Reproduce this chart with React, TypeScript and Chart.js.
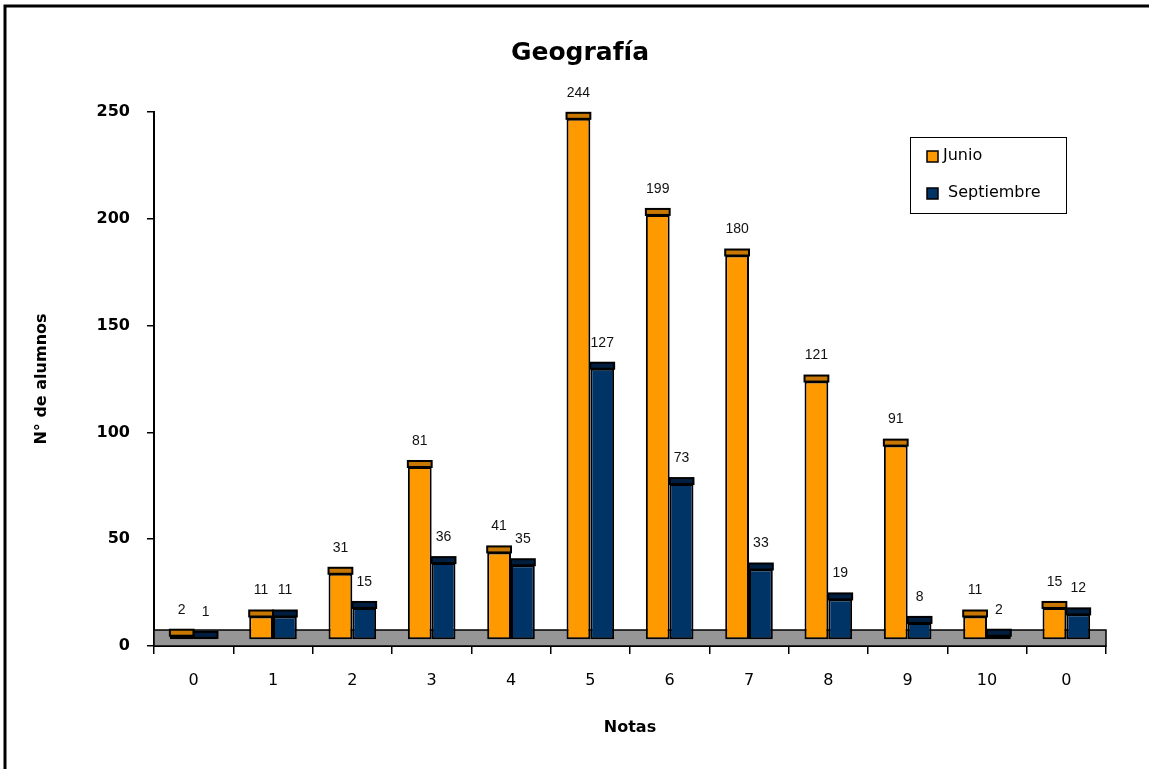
import React, { useEffect, useRef } from "react";
import { Chart, registerables } from "chart.js";

Chart.register(...registerables);

const categories = ["0", "1", "2", "3", "4", "5", "6", "7", "8", "9", "10", "0"];
const junio = [2, 11, 31, 81, 41, 244, 199, 180, 121, 91, 11, 15];
const septiembre = [1, 11, 15, 36, 35, 127, 73, 33, 19, 8, 2, 12];
const seriesNames = ["Junio", "Septiembre"];
const yTicks = { min: 0, max: 250, step: 50 };
const chartTitle = "Geografía";

const FRONT = ["#FF9900", "#003366"];
const CAPS = ["#C87800", "#001F40"];
const DEPTH = 6; // px shift of the front face (3D depth)
const CAP = 6; // px height of the visible top face
const FLOOR = 16; // px height of the grey floor

const threeD = {
  id: "threeD",
  beforeDraw(chart: any) {
    const { ctx, width, height } = chart;
    ctx.save();
    ctx.fillStyle = "#ffffff";
    ctx.fillRect(0, 0, width, height);
    ctx.strokeStyle = "#000";
    ctx.lineWidth = 3;
    ctx.beginPath();
    ctx.moveTo(5, height + 10);
    ctx.lineTo(5, 6);
    ctx.lineTo(width + 10, 6);
    ctx.stroke();
    ctx.restore();
  },
  beforeDatasetsDraw(chart: any) {
    const { ctx, chartArea } = chart;
    const { left, right, bottom } = chartArea;
    ctx.save();
    ctx.fillStyle = "#969696";
    ctx.fillRect(left, bottom - FLOOR, right - left, FLOOR);
    ctx.strokeStyle = "#000";
    ctx.lineWidth = 1.5;
    ctx.strokeRect(left, bottom - FLOOR, right - left, FLOOR);
    ctx.restore();
    ctx.save();
    ctx.translate(0, -DEPTH);
  },
  afterDatasetsDraw(chart: any) {
    const { ctx } = chart;
    chart.data.datasets.forEach((ds: any, i: number) => {
      const meta = chart.getDatasetMeta(i);
      meta.data.forEach((bar: any) => {
        const { x, y, width } = bar.getProps(["x", "y", "width"], true);
        ctx.fillStyle = CAPS[i];
        ctx.fillRect(x - width / 2, y - CAP, width, CAP);
        ctx.strokeStyle = "#000";
        ctx.lineWidth = 2;
        ctx.strokeRect(x - width / 2, y - CAP, width, CAP);
      });
    });
    ctx.restore();
    ctx.save();
    ctx.font = "14px 'Liberation Sans', Arial, sans-serif";
    ctx.fillStyle = "#111";
    ctx.textAlign = "center";
    ctx.textBaseline = "middle";
    chart.data.datasets.forEach((ds: any, i: number) => {
      const meta = chart.getDatasetMeta(i);
      meta.data.forEach((bar: any, j: number) => {
        const { x, y } = bar.getProps(["x", "y"], true);
        ctx.fillText(String(ds.data[j]), x, y - DEPTH - CAP - 20);
      });
    });
    ctx.restore();
  },
  afterDraw(chart: any) {
    const { ctx } = chart;
    ctx.save();
    // title
    ctx.font = "bold 25px 'DejaVu Sans', sans-serif";
    ctx.fillStyle = "#000";
    ctx.textAlign = "center";
    ctx.textBaseline = "middle";
    ctx.fillText(chartTitle, 580, 53);
    // legend
    ctx.strokeStyle = "#000";
    ctx.lineWidth = 1;
    ctx.fillStyle = "#fff";
    ctx.fillRect(910.5, 137.5, 156, 76);
    ctx.strokeRect(910.5, 137.5, 156, 76);
    const rows = [156, 193];
    const textX = [943, 948];
    ctx.font = "16px 'DejaVu Sans', sans-serif";
    ctx.textBaseline = "middle";
    ctx.textAlign = "left";
    rows.forEach((ry, i) => {
      ctx.fillStyle = FRONT[i];
      ctx.fillRect(927, ry - 5, 11, 11);
      ctx.strokeStyle = "#000";
      ctx.lineWidth = 1.5;
      ctx.strokeRect(927, ry - 5, 11, 11);
      ctx.fillStyle = "#000";
      ctx.fillText(seriesNames[i], textX[i], ry);
    });
    ctx.restore();
  },
};

export default function App() {
  const ref = useRef<HTMLCanvasElement>(null);
  useEffect(() => {
    const chart = new Chart(ref.current as HTMLCanvasElement, {
      type: "bar",
      data: {
        labels: categories,
        datasets: [
          {
            label: seriesNames[0],
            data: junio,
            backgroundColor: FRONT[0],
            borderColor: "#000",
            borderWidth: 2,
            borderSkipped: false,
            clip: false as any,
          },
          {
            label: seriesNames[1],
            data: septiembre,
            backgroundColor: FRONT[1],
            borderColor: "#000",
            borderWidth: 2,
            borderSkipped: false,
            clip: false as any,
          },
        ],
      },
      options: {
        responsive: false,
        animation: false,
        events: [],
        categoryPercentage: 0.6,
        barPercentage: 1.0,
        layout: { padding: { left: 0, right: 43, top: 112, bottom: 0 } },
        plugins: {
          legend: { display: false },
          tooltip: { enabled: false },
          title: { display: false },
        },
        scales: {
          x: {
            grid: {
              drawOnChartArea: false,
              drawTicks: true,
              tickLength: 8,
              color: "#000",
              lineWidth: 1.5,
              offset: true,
            },
            border: { color: "#000", width: 2 },
            ticks: {
              color: "#000",
              padding: 17,
              font: { family: "'DejaVu Sans', sans-serif", size: 16 },
            },
            title: {
              display: true,
              text: "Notas",
              color: "#000",
              font: { family: "'DejaVu Sans', sans-serif", size: 16, weight: "bold" },
              padding: { top: 0, bottom: 32 },
            },
            afterFit(scale: any) {
              scale.height = 123;
            },
          },
          y: {
            min: yTicks.min,
            max: yTicks.max,
            grid: {
              drawOnChartArea: false,
              drawTicks: true,
              tickLength: 7,
              color: "#000",
              lineWidth: 1.5,
            },
            border: { color: "#000", width: 2 },
            ticks: {
              stepSize: yTicks.step,
              color: "#000",
              padding: 17,
              font: { family: "'DejaVu Sans', sans-serif", size: 16, weight: "bold" },
            },
            title: {
              display: true,
              text: "N° de alumnos",
              color: "#000",
              font: { family: "'DejaVu Sans', sans-serif", size: 16, weight: "bold" },
              padding: { top: 32, bottom: 0 },
            },
            afterFit(scale: any) {
              scale.width = 154;
            },
          },
        },
      },
      plugins: [threeD],
    });
    return () => chart.destroy();
  }, []);
  return (
    <div
      style={{ position: "fixed", left: 0, top: 0, width: 1149, height: 769, background: "#fff" }}
    >
      <canvas ref={ref} width={1149} height={769} style={{ display: "block" }} />
    </div>
  );
}
